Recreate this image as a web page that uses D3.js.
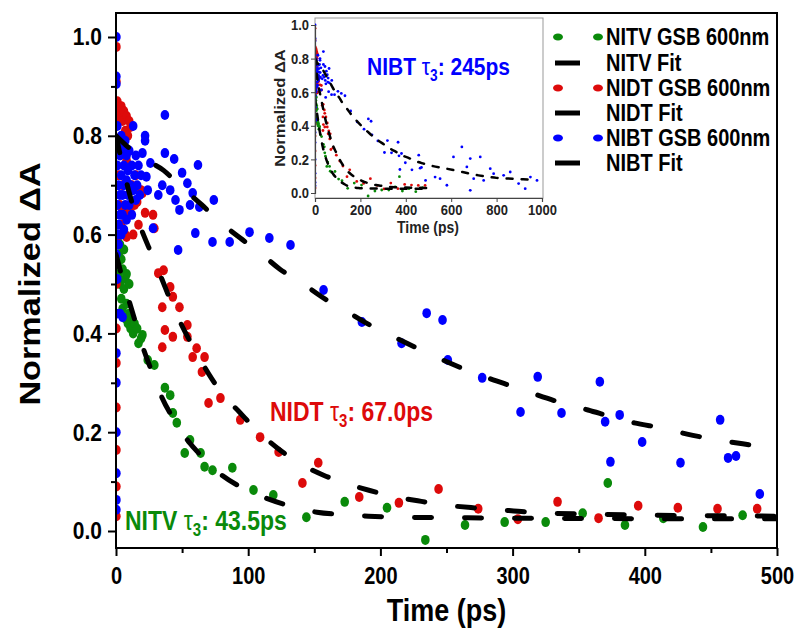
<!DOCTYPE html>
<meta charset="utf-8">
<style>
  body { margin: 0; background: #fff; }
  text { font-family: "Liberation Sans", Arial, sans-serif; font-weight: bold; }
</style>
<svg width="796" height="629"></svg>
<script src="https://d3js.org/d3.v7.min.js"></script>
<script>

// ---- data: [time (ps), normalized dA] ----
var nitvData = [[0.3,0.60],[0.3,0.55],[1,0.59],[1,0.54],[2,0.56],[2,0.52],[3,0.58],[3,0.50],[4,0.55],[4,0.47],
  [5,0.53],[5,0.45],[6,0.57],[6,0.49],[7,0.43],[7,0.51],[8,0.46],[8,0.52],[9,0.42],[10,0.44],[10,0.50],
  [11,0.41],[12,0.43],[13,0.40],[14,0.42],[16,0.41],[17,0.38],[19,0.39],
  [20,0.397],[24,0.346],[29,0.336],[37,0.29],[41,0.275],[43,0.239],[46,0.219],[56,0.184],[52,0.158],
  [64,0.158],[67,0.13],[73,0.123],[88,0.128],[104,0.083],[119,0.073],[144,0.028],[173,0.059],[205,0.047],
  [234,-0.018],[264,0.012],[294,0.018],[325,0.018],[353,0.036],[372,0.097],[385,0.012],[414,0.026],
  [444,0.008],[474,0.032]];

var nidtData = [[0.3,0.98],[0.3,0.91],[0.3,0.83],[0.3,0.50],[0.3,0.41],[0.3,0.34],[0.3,0.25],[0.3,0.164],
  [0.3,0.09],[0.3,0.03],
  [1,0.87],[2,0.85],[3,0.84],[4,0.86],[5,0.83],[6,0.85],[7,0.81],[8,0.84],[9,0.80],[10,0.83],[11,0.818],
  [1,0.78],[2,0.72],[3,0.66],[4,0.656],[4,0.62],[5,0.70],[6,0.64],[7,0.60],[8,0.75],[9,0.65],[11,0.644],
  [12,0.70],[13,0.60],[14,0.66],[15,0.72],[16,0.666],[17,0.62],[19,0.69],[20,0.684],[1,0.595],[8,0.595],
  [22,0.644],[28,0.64],[29,0.613],
  [32,0.522],[36,0.528],[41,0.494],[43,0.474],[48,0.453],[35,0.453],[37,0.407],[43,0.393],[35,0.372],
  [54,0.417],[54,0.393],[61,0.37],[58,0.352],[67,0.352],[65,0.322],[79,0.269],[70,0.259],[94,0.225],
  [109,0.19],[123,0.16],[141,0.097],[153,0.138],[184,0.069],[214,0.057],[244,0.085],[274,0.045],
  [304,0.024],[334,0.059],[365,0.026],[395,0.051],[425,0.047],[455,0.045],[485,0.045]];

var nibtData = [[0.3,1.0],[0.3,0.92],[0.3,0.905],[0.3,0.36],[0.3,0.30],[0.3,0.20],[0.3,0.117],[0.3,0.063],
  [0.3,0.043],[0.3,0.51],[0.3,0.44],[0.3,0.56],
  [1,0.82],[1,0.74],[1,0.66],[1,0.60],[2,0.78],[2,0.70],[2,0.62],[2,0.58],[3,0.76],[3,0.68],[3,0.64],
  [4,0.80],[4,0.72],[4,0.60],[5,0.77],[5,0.68],[5,0.64],[6,0.74],[6,0.70],[6,0.61],[7,0.79],[7,0.66],
  [8,0.76],[8,0.71],[8,0.63],[9,0.68],[9,0.73],[10,0.77],[10,0.66],[11,0.70],[12,0.74],[12,0.64],
  [13,0.82],[13,0.69],[14,0.72],[15,0.76],[15,0.67],[16,0.70],[17,0.74],[18,0.68],[19,0.72],[20,0.765],
  [22,0.80],[22,0.79],[23,0.717],[26,0.745],[24,0.69],[32,0.68],[28,0.613],[3,0.44],[5,0.433],[1,0.51],
  [37,0.842],[37,0.765],[44,0.753],[50,0.725],[62,0.741],[35,0.70],[41,0.69],[54,0.704],[45,0.67],
  [58,0.684],[56,0.66],[48,0.65],[63,0.656],[74,0.67],[60,0.603],[47,0.569],[73,0.585],[86,0.585],
  [101,0.605],[116,0.593],[132,0.579],[157,0.488],[186,0.423],[216,0.38],[235,0.441],[247,0.427],
  [251,0.346],[277,0.31],[306,0.241],[319,0.312],[337,0.239],[366,0.302],[370,0.221],[374,0.14],
  [381,0.235],[398,0.18],[427,0.138],[457,0.225],[463,0.148],[469,0.152],[487,0.075],
  [529,0.095],[551,0.085],[581,0.046],[610,0.215],[647,0.274],[669,0.155],[684,0.205],[699,0.085],
  [684,0.016],[728,0.215],[743,0.075],[772,0.145],[787,0.115],[831,0.105],[860,0.125],[897,0.056],
  [926,0.026],[949,0.095],[978,0.075]];

// fit curves
var nitvFitT = [0,5,10,15,20,29,34,43,54,66,80,96,113,134,152,173,191,213,250,300,400,500];
var nitvFitV = [0.56,0.51,0.465,0.42,0.375,0.31,0.275,0.229,0.184,0.148,0.113,0.087,0.067,0.049,0.038,0.033,0.03,0.028,0.027,0.026,0.025,0.025];
var nidtFitT = [0,5,10,15,20,27,35,41,50,60,73,80,94,105,122,137,157,173,192,210,231,251,270,290,309,330,360,400,450,500];
var nidtFitV = [0.80,0.74,0.685,0.64,0.605,0.56,0.508,0.468,0.415,0.365,0.306,0.279,0.239,0.208,0.168,0.14,0.113,0.097,0.082,0.07,0.06,0.052,0.047,0.043,0.039,0.036,0.034,0.032,0.031,0.03];
var nibtFitT = [0,10,20,36,48,65,79,94,109,124,139,158,173,192,207,228,244,265,281,303,319,340,357,375,392,414,432,452,470,492,520,560,650,720,800,870,940];
var nibtFitV = [0.80,0.775,0.755,0.73,0.70,0.66,0.625,0.593,0.563,0.53,0.505,0.47,0.447,0.417,0.397,0.37,0.35,0.326,0.31,0.29,0.275,0.257,0.245,0.231,0.219,0.208,0.196,0.186,0.178,0.17,0.16,0.15,0.125,0.105,0.09,0.085,0.08];

var xTicks = [0,100,200,300,400,500];
var yTicks = [0,0.2,0.4,0.6,0.8,1.0];
var insetXTicks = [0,200,400,600,800,1000];
var legendLabels = ["NITV GSB 600nm","NITV Fit","NIDT GSB 600nm","NIDT Fit","NIBT GSB 600nm","NIBT Fit"];

var green = "#0a8a0a", red = "#dd0a0a", blue = "#0000ff";
var K = 1.18; // the source figure's text looks a bit taller than wide

var svg = d3.select("svg");

// main plot box
var L = 116, R = 777, T = 13, B = 548;
var x = d3.scaleLinear().domain([0, 500]).range([116, 777]);
var y = d3.scaleLinear().domain([0, 1]).range([531, 37]);

svg.append("clipPath").attr("id", "mainclip")
  .append("rect").attr("x", L).attr("y", T).attr("width", R - L).attr("height", B - T);

var plot = svg.append("g").attr("clip-path", "url(#mainclip)");

function zip(ts, vs) { return ts.map(function(t, i) { return [t, vs[i]]; }); }

var series = [
  {data: nitvData, fit: zip(nitvFitT, nitvFitV), color: green},
  {data: nidtData, fit: zip(nidtFitT, nidtFitV), color: red},
  {data: nibtData, fit: zip(nibtFitT, nibtFitV), color: blue}
];

series.forEach(function(s) {
  plot.selectAll(null).data(s.data).enter().append("ellipse")
    .attr("cx", function(d) { return x(d[0]); })
    .attr("cy", function(d) { return y(d[1]); })
    .attr("rx", 4.3).attr("ry", 5)
    .attr("fill", s.color);
});

var line = d3.line().x(function(d) { return x(d[0]); }).y(function(d) { return y(d[1]); })
  .curve(d3.curveMonotoneX);

series.forEach(function(s) {
  plot.append("path").datum(s.fit)
    .attr("d", line)
    .attr("fill", "none").attr("stroke", "#000")
    .attr("stroke-width", 5).attr("stroke-linecap", "round")
    .attr("stroke-dasharray", "17 33");
});

// axes
svg.append("g").attr("class", "xax").attr("transform", "translate(0," + B + ")")
  .call(d3.axisBottom(x).tickValues(xTicks).tickSize(8).tickPadding(8));
svg.append("g").attr("transform", "translate(0," + B + ")")
  .call(d3.axisBottom(x).tickValues([50,150,250,350,450]).tickSize(5).tickFormat(""));
svg.append("g").attr("class", "yax").attr("transform", "translate(" + L + ",0)")
  .call(d3.axisLeft(y).tickValues(yTicks).tickSize(8).tickPadding(6).tickFormat(d3.format(".1f")));
svg.append("g").attr("transform", "translate(" + L + ",0)")
  .call(d3.axisLeft(y).tickValues([0.1,0.3,0.5,0.7,0.9]).tickSize(5).tickFormat(""));

svg.selectAll(".domain").remove();
svg.selectAll(".tick line").attr("stroke", "#000").attr("stroke-width", 2);
svg.selectAll(".tick text").attr("fill", "#000")
  .attr("font-family", "Liberation Sans, Arial, sans-serif").attr("font-weight", "bold")
  .attr("transform", "scale(1," + K + ")");
svg.selectAll(".xax .tick text").attr("font-size", 20);
svg.selectAll(".yax .tick text").attr("font-size", 21);

svg.append("rect").attr("x", L).attr("y", T).attr("width", R - L).attr("height", B - T)
  .attr("fill", "none").attr("stroke", "#000").attr("stroke-width", 2);

// text placed at (px,py) and stretched vertically around its baseline
function tallText(g, px, py, size) {
  return g.append("text").attr("transform", "translate(" + px + "," + py + ") scale(1," + K + ")")
    .attr("font-size", size);
}

tallText(svg, (L + R) / 2, 621, 27).attr("text-anchor", "middle").text("Time (ps)");
svg.append("text").attr("transform", "translate(40,284) rotate(-90) scale(" + K + ",1)")
  .attr("text-anchor", "middle").attr("font-size", 29).text("Normalized \u0394A");

// annotations
function tauLabel(g, px, py, name, rest, color, size) {
  var t = tallText(g, px, py, size).attr("fill", color);
  t.append("tspan").text(name + " ");
  t.append("tspan").attr("font-weight", "normal").text("\u03c4");
  t.append("tspan").attr("font-size", size * 0.65).attr("dy", 5).text("3");
  t.append("tspan").attr("dy", -5).text(rest);
}
tauLabel(svg, 270, 421, "NIDT", ": 67.0ps", red, 23);
tauLabel(svg, 125, 530, "NITV", ": 43.5ps", green, 23);

// inset
var iL = 315, iR = 543, iT = 18, iB = 198;
var ix = d3.scaleLinear().domain([0, 1000]).range([315, 542]);
var iy = d3.scaleLinear().domain([0, 1]).range([193, 25]);
var inset = svg.append("g");
inset.append("rect").attr("x", iL).attr("y", iT).attr("width", iR - iL).attr("height", iB - iT)
  .attr("fill", "#fff").attr("stroke", "#999").attr("stroke-width", 1);
inset.append("clipPath").attr("id", "insetclip")
  .append("rect").attr("x", iL).attr("y", iT).attr("width", iR - iL).attr("height", iB - iT);
var iplot = inset.append("g").attr("clip-path", "url(#insetclip)");

series.forEach(function(s) {
  iplot.selectAll(null).data(s.data).enter().append("circle")
    .attr("cx", function(d) { return ix(d[0]); })
    .attr("cy", function(d) { return iy(d[1]); })
    .attr("r", 1.4)
    .attr("fill", s.color);
});
var iline = d3.line().x(function(d) { return ix(d[0]); }).y(function(d) { return iy(d[1]); })
  .curve(d3.curveMonotoneX);
series.forEach(function(s) {
  iplot.append("path").datum(s.fit).attr("d", iline)
    .attr("fill", "none").attr("stroke", "#000").attr("stroke-width", 2.5)
    .attr("stroke-linecap", "round").attr("stroke-dasharray", "6 9");
});

var ixAxis = inset.append("g").attr("transform", "translate(0," + iB + ")")
  .call(d3.axisBottom(ix).tickValues(insetXTicks).tickSize(4).tickPadding(1).tickFormat(d3.format("d")));
var iyAxis = inset.append("g").attr("transform", "translate(" + iL + ",0)")
  .call(d3.axisLeft(iy).tickValues(yTicks).tickSize(4).tickPadding(2).tickFormat(d3.format(".1f")));
[ixAxis, iyAxis].forEach(function(a) {
  a.select(".domain").attr("stroke", "#444").attr("stroke-width", 1.2);
  a.selectAll(".tick line").attr("stroke", "#444");
  a.selectAll(".tick text").attr("font-size", 13).attr("fill", "#222")
    .attr("font-family", "Liberation Sans, Arial, sans-serif").attr("font-weight", "bold")
    .attr("transform", "scale(1," + K + ")");
});
tallText(inset, 428, 233, 14).attr("text-anchor", "middle").attr("fill", "#222").text("Time (ps)");
inset.append("text").attr("transform", "translate(285,108) rotate(-90) scale(" + K + ",1)")
  .attr("text-anchor", "middle").attr("font-size", 14).attr("fill", "#222").text("Normalized \u0394A");
tauLabel(inset, 367, 75, "NIBT", ": 245ps", blue, 21);

// legend
var rowY = [37, 63, 88, 113, 138, 163];
var legendColors = [green, null, red, null, blue, null];
var legend = svg.append("g");
legendLabels.forEach(function(lab, i) {
  var c = legendColors[i];
  if (c) {
    [558, 598].forEach(function(cx) {
      legend.append("ellipse").attr("cx", cx).attr("cy", rowY[i]).attr("rx", 5).attr("ry", 3.5).attr("fill", c);
    });
  } else {
    legend.append("line").attr("x1", 555).attr("x2", 580).attr("y1", rowY[i]).attr("y2", rowY[i])
      .attr("stroke", "#000").attr("stroke-width", 5);
  }
  tallText(legend, 606, rowY[i] + 8, 20).text(lab);
});

</script>
